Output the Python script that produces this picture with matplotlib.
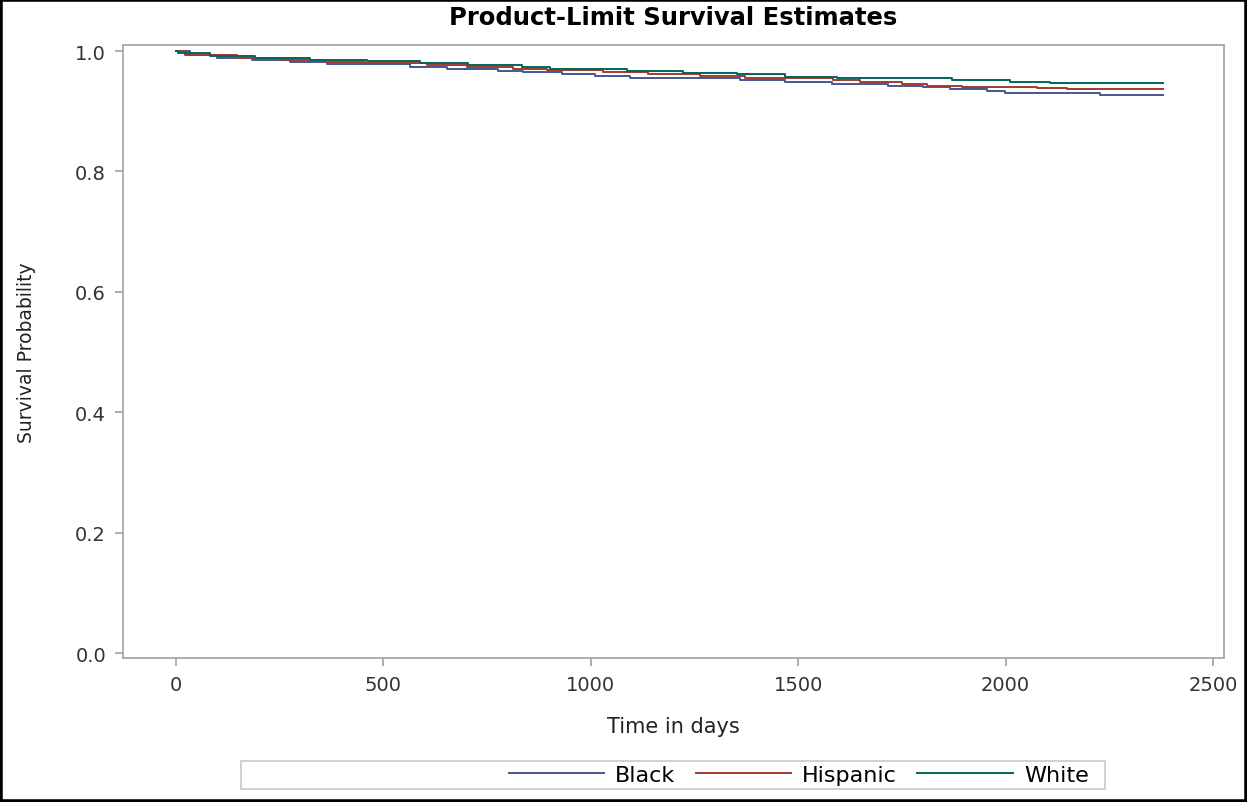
import numpy as np
import matplotlib
matplotlib.use('Agg')
import matplotlib.pyplot as plt
from matplotlib.patches import Rectangle

# step times (days) and survival estimates
black_t = [0, 34, 99, 183, 275, 364, 564, 653, 776, 837, 931, 1010, 1095, 1360, 1468, 1582, 1717, 1801, 1866, 1955, 1999, 2228, 2379]
black_s = [1.0, 0.9939, 0.9884, 0.9850, 0.9822, 0.9790, 0.9729, 0.9701, 0.9663, 0.9646, 0.9618, 0.9580, 0.9551, 0.9518, 0.9490, 0.9452, 0.9424, 0.9397, 0.9364, 0.9336, 0.9302, 0.9274, 0.9274]

hisp_t = [0, 22, 147, 258, 354, 456, 605, 702, 812, 894, 1029, 1138, 1263, 1372, 1584, 1649, 1750, 1811, 1895, 2076, 2148, 2379]
hisp_s = [1.0, 0.9939, 0.9879, 0.9850, 0.9822, 0.9801, 0.9767, 0.9729, 0.9701, 0.9684, 0.9646, 0.9618, 0.9580, 0.9551, 0.9518, 0.9480, 0.9452, 0.9424, 0.9410, 0.9390, 0.9365, 0.9365]

white_t = [0, 5, 82, 190, 323, 460, 588, 704, 834, 902, 1087, 1222, 1352, 1468, 1594, 1871, 2011, 2107, 2379]
white_s = [1.0, 0.9962, 0.9922, 0.9884, 0.9855, 0.9839, 0.9796, 0.9762, 0.9729, 0.9701, 0.9673, 0.9635, 0.9613, 0.9573, 0.9547, 0.9523, 0.9490, 0.9463, 0.9463]

groups = ['Black', 'Hispanic', 'White']
colors = ['#445694', '#A23A2E', '#01665E']

plt.rcParams['font.family'] = ['DejaVu Sans']

fig = plt.figure(figsize=(12.47, 8.03), dpi=100)
ax = fig.add_axes([0.0984, 0.1793, 0.8832, 0.764])

lines = []
for t, s, c, g in zip([black_t, hisp_t, white_t], [black_s, hisp_s, white_s], colors, groups):
    ln, = ax.step(t, s, where='post', color=c, lw=1.4, label=g)
    lines.append(ln)

ax.set_xlim(-128.5, 2526.5)
ax.set_ylim(-0.0083, 1.0108)
ax.set_xticks([0, 500, 1000, 1500, 2000, 2500])
ax.set_yticks([0.0, 0.2, 0.4, 0.6, 0.8, 1.0])
ax.set_yticklabels(['0.0', '0.2', '0.4', '0.6', '0.8', '1.0'])

for sp in ax.spines.values():
    sp.set_color('#a8a8a8')
    sp.set_linewidth(1.3)
ax.tick_params(colors='#a8a8a8', labelcolor='#333333', labelsize=14, length=6, width=1.3, pad=6)

ax.set_xlabel('Time in days', fontsize=15, color='#222222', labelpad=16)
ax.set_ylabel('Survival Probability', fontsize=13.5, color='#222222', labelpad=28)
# title is centred over the plot area, not the figure
fig.text(0.5397, 0.978, 'Product-Limit Survival Estimates', fontsize=17.5, fontweight='bold',
         ha='center', va='center')

# legend box across the bottom, entries pushed to the right
fig.patches.append(Rectangle((0.1933, 0.0162), 0.6929, 0.0349, transform=fig.transFigure,
                             fill=False, ec='#c8c8c8', lw=1.2))
fig.legend(handles=lines, loc='center right', bbox_to_anchor=(0.889, 0.0336), ncol=3,
           frameon=False, fontsize=16, handlelength=4.3, columnspacing=0.9, handletextpad=0.5)

# black frame round the whole picture
fig.patches.append(Rectangle((0, 0), 1, 1, transform=fig.transFigure, fill=False, ec='black', lw=4))

fig.savefig('out.png', dpi=100)
